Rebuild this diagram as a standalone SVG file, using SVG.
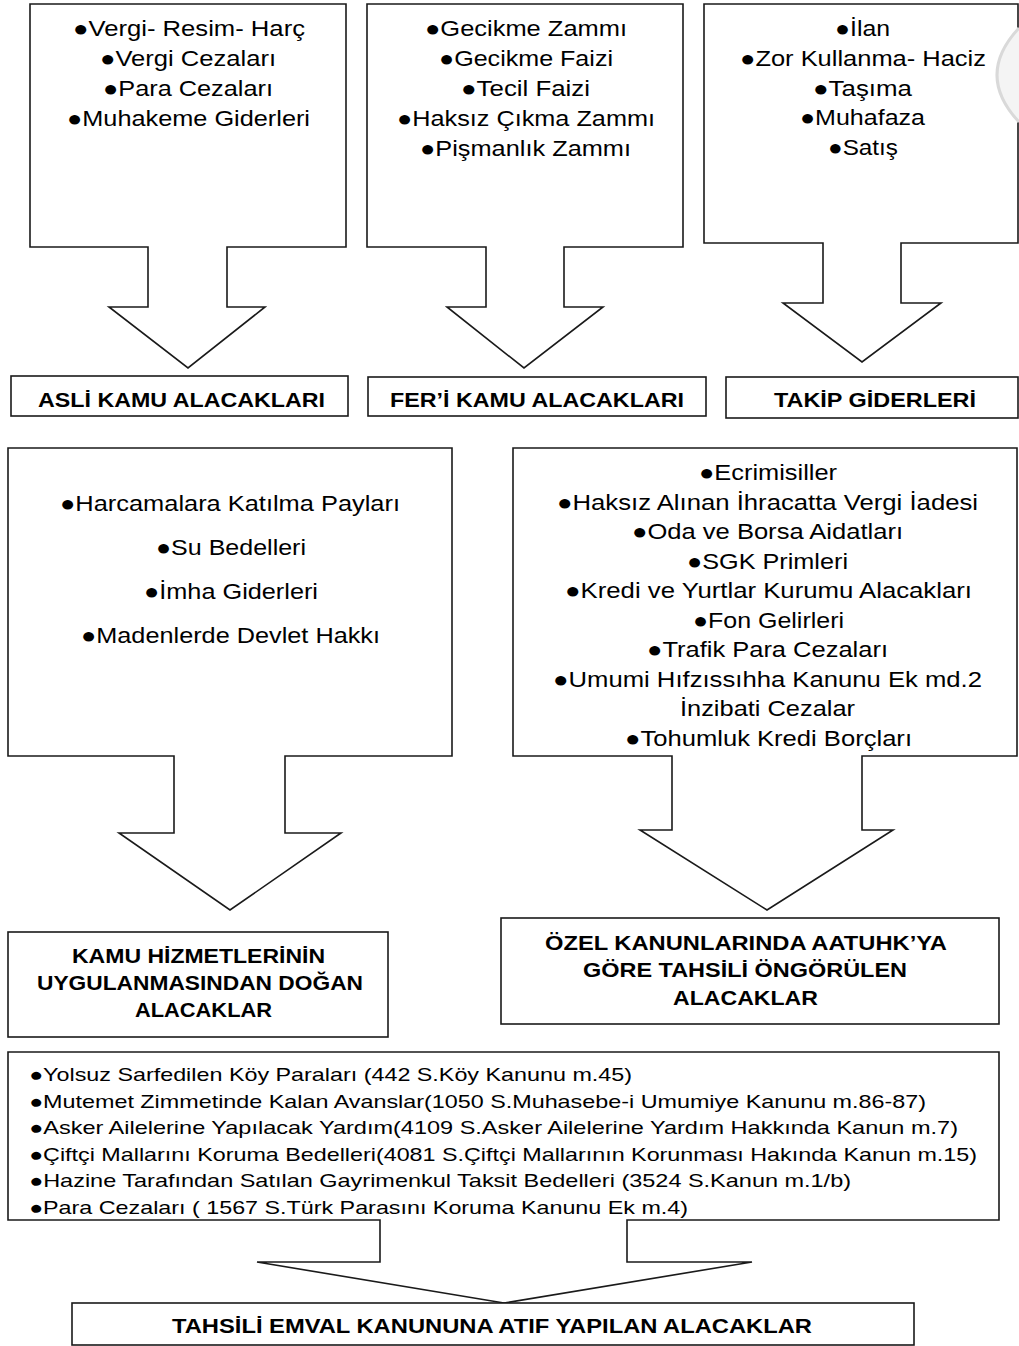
<svg xmlns="http://www.w3.org/2000/svg" width="1019" height="1346" viewBox="0 0 1019 1346">
<style>
.shape{fill:#fff;stroke:#1a1a1a;stroke-width:1.6;stroke-linejoin:miter}
.t{font-family:"Liberation Sans",Arial,sans-serif;font-size:22px;fill:#000}
.b{font-family:"Liberation Sans",Arial,sans-serif;font-size:21px;font-weight:bold;fill:#000}
.s{font-family:"Liberation Sans",Arial,sans-serif;font-size:18.5px;fill:#000}
</style>
<rect width="1019" height="1346" fill="#fff"/>
<g id="connectors">
<polygon class="shape" points="30,4 346,4 346,247 227,247 227,307 265,307 188,368 109,307 148,307 148,247 30,247"/>
<polygon class="shape" points="367,4 683,4 683,247 564,247 564,307 603,307 524,368 447,307 486,307 486,247 367,247"/>
<polygon class="shape" points="704,4 1018,4 1018,243 901,243 901,303 941,303 862,362 783,303 823,303 823,243 704,243"/>
<polygon class="shape" points="8,448 452,448 452,756 285,756 285,833 341,833 230,910 119,833 174,833 174,756 8,756"/>
<polygon class="shape" points="513,448 1017,448 1017,756 862,756 862,830 893,830 767,910 640,830 672,830 672,756 513,756"/>
<polygon class="shape" points="8,1052 999,1052 999,1220 627,1220 627,1262 752,1262 504,1303 257,1262 380,1262 380,1220 8,1220"/>
</g>
<path d="M1019,28 Q975,75 1019,122" fill="#f4f4f4" stroke="#d9d9d9" stroke-width="3"/>
<g id="asli-items">
<text class="t" x="73" y="36" textLength="232" lengthAdjust="spacingAndGlyphs">●Vergi- Resim- Harç</text>
<text class="t" x="100" y="66" textLength="176" lengthAdjust="spacingAndGlyphs">●Vergi Cezaları</text>
<text class="t" x="103" y="96" textLength="170" lengthAdjust="spacingAndGlyphs">●Para Cezaları</text>
<text class="t" x="67" y="126" textLength="243" lengthAdjust="spacingAndGlyphs">●Muhakeme Giderleri</text>
</g>
<g id="fer-items">
<text class="t" x="425" y="36" textLength="202" lengthAdjust="spacingAndGlyphs">●Gecikme Zammı</text>
<text class="t" x="439" y="66" textLength="174" lengthAdjust="spacingAndGlyphs">●Gecikme Faizi</text>
<text class="t" x="461" y="96" textLength="129" lengthAdjust="spacingAndGlyphs">●Tecil Faizi</text>
<text class="t" x="397" y="126" textLength="258" lengthAdjust="spacingAndGlyphs">●Haksız Çıkma Zammı</text>
<text class="t" x="420" y="156" textLength="211" lengthAdjust="spacingAndGlyphs">●Pişmanlık Zammı</text>
</g>
<g id="takip-items">
<text class="t" x="835" y="36" textLength="55" lengthAdjust="spacingAndGlyphs">●İlan</text>
<text class="t" x="740" y="66" textLength="246" lengthAdjust="spacingAndGlyphs">●Zor Kullanma- Haciz</text>
<text class="t" x="813" y="96" textLength="99" lengthAdjust="spacingAndGlyphs">●Taşıma</text>
<text class="t" x="800" y="125" textLength="125" lengthAdjust="spacingAndGlyphs">●Muhafaza</text>
<text class="t" x="828" y="155" textLength="70" lengthAdjust="spacingAndGlyphs">●Satış</text>
</g>
<g id="asli-label">
<rect class="shape" x="11" y="376" width="337" height="40"/>
<text class="b" x="38" y="407" textLength="287" lengthAdjust="spacingAndGlyphs">ASLİ KAMU ALACAKLARI</text>
</g>
<g id="fer-label">
<rect class="shape" x="368" y="377" width="338" height="39"/>
<text class="b" x="390" y="407" textLength="294" lengthAdjust="spacingAndGlyphs">FER’İ KAMU ALACAKLARI</text>
</g>
<g id="takip-label">
<rect class="shape" x="726" y="377" width="292" height="41"/>
<text class="b" x="774" y="407" textLength="202" lengthAdjust="spacingAndGlyphs">TAKİP GİDERLERİ</text>
</g>
<g id="kamu-items">
<text class="t" x="60" y="511" textLength="340" lengthAdjust="spacingAndGlyphs">●Harcamalara Katılma Payları</text>
<text class="t" x="156" y="555" textLength="150" lengthAdjust="spacingAndGlyphs">●Su Bedelleri</text>
<text class="t" x="144" y="599" textLength="174" lengthAdjust="spacingAndGlyphs">●İmha Giderleri</text>
<text class="t" x="81" y="643" textLength="299" lengthAdjust="spacingAndGlyphs">●Madenlerde Devlet Hakkı</text>
</g>
<g id="ozel-items">
<text class="t" x="699" y="480" textLength="138" lengthAdjust="spacingAndGlyphs">●Ecrimisiller</text>
<text class="t" x="557" y="510" textLength="421" lengthAdjust="spacingAndGlyphs">●Haksız Alınan İhracatta Vergi İadesi</text>
<text class="t" x="632" y="539" textLength="271" lengthAdjust="spacingAndGlyphs">●Oda ve Borsa Aidatları</text>
<text class="t" x="687" y="569" textLength="161" lengthAdjust="spacingAndGlyphs">●SGK Primleri</text>
<text class="t" x="565" y="598" textLength="407" lengthAdjust="spacingAndGlyphs">●Kredi ve Yurtlar Kurumu Alacakları</text>
<text class="t" x="693" y="628" textLength="151" lengthAdjust="spacingAndGlyphs">●Fon Gelirleri</text>
<text class="t" x="647" y="657" textLength="241" lengthAdjust="spacingAndGlyphs">●Trafik Para Cezaları</text>
<text class="t" x="553" y="687" textLength="429" lengthAdjust="spacingAndGlyphs">●Umumi Hıfzıssıhha Kanunu Ek md.2</text>
<text class="t" x="680" y="716" textLength="175" lengthAdjust="spacingAndGlyphs">İnzibati Cezalar</text>
<text class="t" x="625" y="746" textLength="287" lengthAdjust="spacingAndGlyphs">●Tohumluk Kredi Borçları</text>
</g>
<g id="kamu-label">
<rect class="shape" x="8" y="932" width="380" height="105"/>
<text class="b" x="72" y="963" textLength="253" lengthAdjust="spacingAndGlyphs">KAMU HİZMETLERİNİN</text>
<text class="b" x="37" y="990" textLength="326" lengthAdjust="spacingAndGlyphs">UYGULANMASINDAN DOĞAN</text>
<text class="b" x="135" y="1017" textLength="137" lengthAdjust="spacingAndGlyphs">ALACAKLAR</text>
</g>
<g id="ozel-label">
<rect class="shape" x="501" y="918" width="498" height="106"/>
<text class="b" x="545" y="950" textLength="402" lengthAdjust="spacingAndGlyphs">ÖZEL KANUNLARINDA AATUHK’YA</text>
<text class="b" x="583" y="977" textLength="324" lengthAdjust="spacingAndGlyphs">GÖRE TAHSİLİ ÖNGÖRÜLEN</text>
<text class="b" x="673" y="1005" textLength="145" lengthAdjust="spacingAndGlyphs">ALACAKLAR</text>
</g>
<g id="atif-items">
<text class="s" x="29" y="1081" textLength="603" lengthAdjust="spacingAndGlyphs">●Yolsuz Sarfedilen Köy Paraları (442 S.Köy Kanunu m.45)</text>
<text class="s" x="29" y="1108" textLength="897" lengthAdjust="spacingAndGlyphs">●Mutemet Zimmetinde Kalan Avanslar(1050 S.Muhasebe-i Umumiye Kanunu m.86-87)</text>
<text class="s" x="29" y="1134" textLength="929" lengthAdjust="spacingAndGlyphs">●Asker Ailelerine Yapılacak Yardım(4109 S.Asker Ailelerine Yardım Hakkında Kanun m.7)</text>
<text class="s" x="29" y="1161" textLength="948" lengthAdjust="spacingAndGlyphs">●Çiftçi Mallarını Koruma Bedelleri(4081 S.Çiftçi Mallarının Korunması Hakında Kanun m.15)</text>
<text class="s" x="29" y="1187" textLength="822" lengthAdjust="spacingAndGlyphs">●Hazine Tarafından Satılan Gayrimenkul Taksit Bedelleri (3524 S.Kanun m.1/b)</text>
<text class="s" x="29" y="1214" textLength="659" lengthAdjust="spacingAndGlyphs">●Para Cezaları ( 1567 S.Türk Parasını Koruma Kanunu Ek m.4)</text>
</g>
<g id="atif-label">
<rect class="shape" x="72" y="1303" width="842" height="42"/>
<text class="b" x="172" y="1333" textLength="640" lengthAdjust="spacingAndGlyphs">TAHSİLİ EMVAL KANUNUNA ATIF YAPILAN ALACAKLAR</text>
</g>
</svg>
